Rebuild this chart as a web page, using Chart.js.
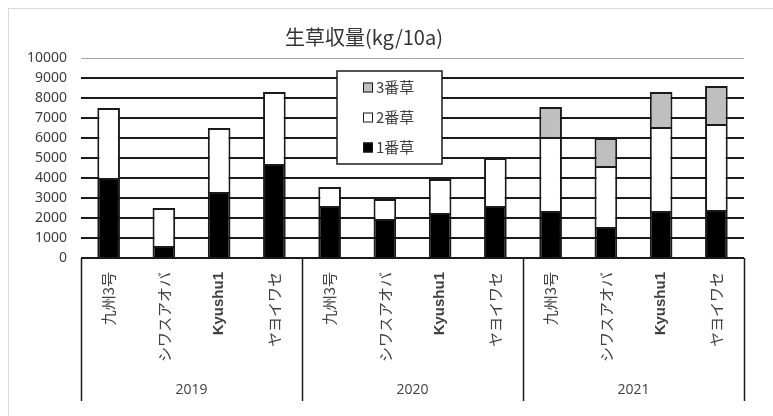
<!DOCTYPE html>
<html>
<head>
<meta charset="utf-8">
<script src="https://cdn.jsdelivr.net/npm/chart.js@4/dist/chart.umd.min.js"></script>
<style>
  html, body { margin: 0; padding: 0; background: #ffffff; }
  #wrap { width: 773px; height: 416px; position: relative; }
</style>
</head>
<body>
<div id="wrap"><canvas id="c" width="773" height="416"></canvas></div>
<script>
// Varieties per year (four per year, three years)
const categories = [
  '九州3号', 'シワスアオバ', 'Kyushu1', 'ヤヨイワセ',
  '九州3号', 'シワスアオバ', 'Kyushu1', 'ヤヨイワセ',
  '九州3号', 'シワスアオバ', 'Kyushu1', 'ヤヨイワセ'
];
const years = ['2019', '2020', '2021'];
const varietiesPerYear = 4;

// Fresh-grass yield by cutting (kg/10a)
const cut1 = [4000, 600, 3300, 4700, 2600, 1950, 2250, 2600, 2350, 1550, 2350, 2400];
const cut2 = [3500, 1900, 3200, 3600, 950, 1000, 1700, 2400, 3700, 3050, 4200, 4300];
const cut3 = [null, null, null, null, null, null, null, null, 1500, 1400, 1750, 1900];

const seriesLabels = ['1番草', '2番草', '3番草'];
const seriesColors = ['#000000', '#ffffff', '#bfbfbf'];

const yMin = 0, yMax = 10000, yStep = 1000;
const titleText = '生草収量(kg/10a)';

const textColor = '#404040';
const lineColor = '#1a1a1a';

// Outer frame, title, year grouping and the boxed legend
const decorations = {
  id: 'decorations',
  beforeDraw(chart) {
    const ctx = chart.ctx;
    ctx.save();
    ctx.fillStyle = '#ffffff';
    ctx.fillRect(0, 0, chart.width, chart.height);
    ctx.strokeStyle = '#d9d9d9';
    ctx.lineWidth = 1;
    ctx.strokeRect(8.5, 8.5, chart.width + 40, chart.height + 40);
    ctx.restore();
  },
  afterDraw(chart) {
    const ctx = chart.ctx;
    const x = chart.scales.x;
    const area = chart.chartArea;
    ctx.save();

    // title
    ctx.fillStyle = '#333333';
    ctx.font = '20px "Noto Sans CJK JP"';
    ctx.textAlign = 'center';
    ctx.textBaseline = 'middle';
    ctx.fillText(titleText, 364, 37);

    // year group separators and labels
    const half = (x.getPixelForValue(1) - x.getPixelForValue(0)) / 2;
    ctx.strokeStyle = lineColor;
    ctx.lineWidth = 1.5;
    for (let g = 0; g <= years.length; g++) {
      const i = g * varietiesPerYear;
      const px = i < categories.length ? x.getPixelForValue(i) - half
                                       : x.getPixelForValue(categories.length - 1) + half;
      ctx.beginPath();
      ctx.moveTo(Math.round(px) + 0.5, area.bottom);
      ctx.lineTo(Math.round(px) + 0.5, 401);
      ctx.stroke();
    }
    ctx.fillStyle = textColor;
    ctx.font = '14px "Open Sans"';
    ctx.textAlign = 'center';
    ctx.textBaseline = 'middle';
    years.forEach((yr, g) => {
      const a = x.getPixelForValue(g * varietiesPerYear);
      const b = x.getPixelForValue(g * varietiesPerYear + varietiesPerYear - 1);
      ctx.fillText(yr, (a + b) / 2, 390);
    });

    // legend box (top series listed first)
    const lx = 337, ly = 71, lw = 105, lh = 93;
    ctx.fillStyle = '#ffffff';
    ctx.fillRect(lx, ly, lw, lh);
    ctx.strokeStyle = lineColor;
    ctx.lineWidth = 1.5;
    ctx.strokeRect(lx, ly, lw, lh);
    const order = chart.data.datasets.map((d, i) => i).reverse();
    order.forEach((di, k) => {
      const ds = chart.data.datasets[di];
      const cy = 87.5 + k * 30;
      ctx.fillStyle = ds.backgroundColor;
      ctx.fillRect(363, cy - 5, 10, 10);
      ctx.strokeStyle = lineColor;
      ctx.lineWidth = 1;
      ctx.strokeRect(363.5, cy - 4.5, 9, 9);
      ctx.fillStyle = textColor;
      ctx.font = '15px "Noto Sans CJK JP"';
      ctx.textAlign = 'left';
      ctx.textBaseline = 'middle';
      ctx.fillText(ds.label, 376, cy);
    });
    ctx.restore();
  }
};

const datasets = [cut1, cut2, cut3].map((vals, i) => ({
  label: seriesLabels[i],
  data: vals,
  backgroundColor: seriesColors[i],
  borderColor: lineColor,
  borderWidth: { top: 2, left: 2, right: 2, bottom: 0 },
  borderSkipped: false,
  barPercentage: 0.41,
  categoryPercentage: 1.0
}));

new Chart(document.getElementById('c'), {
  type: 'bar',
  data: { labels: categories, datasets },
  plugins: [decorations],
  options: {
    responsive: false,
    animation: false,
    devicePixelRatio: 1,
    layout: { padding: { top: 58, right: 29, left: 0, bottom: 0 } },
    plugins: {
      legend: { display: false },
      title: { display: false },
      tooltip: { enabled: false }
    },
    scales: {
      x: {
        stacked: true,
        grid: { display: false, drawTicks: false },
        border: { display: false },
        afterFit(scale) { scale.height = 158; },
        ticks: {
          autoSkip: false,
          minRotation: 90,
          maxRotation: 90,
          padding: 14,
          color: textColor,
          font(ctx) {
            const lbl = categories[ctx.index];
            return /^[A-Za-z0-9]+$/.test(lbl)
              ? { family: 'Liberation Sans', size: 15, weight: 'bold' }
              : { family: 'Noto Sans CJK JP', size: 15 };
          }
        }
      },
      y: {
        stacked: true,
        min: yMin,
        max: yMax,
        border: { display: false },
        afterFit(scale) { scale.width = 81; },
        grid: {
          drawTicks: false,
          color: (c) => c.tick && c.tick.value === yMax ? '#a6a6a6' : lineColor,
          lineWidth: (c) => c.tick && c.tick.value === yMax ? 1 : 2
        },
        ticks: {
          stepSize: yStep,
          padding: 14,
          color: textColor,
          font: { family: 'Noto Sans', size: 14 },
          callback: (v) => String(v)
        }
      }
    }
  }
});
</script>
</body>
</html>
